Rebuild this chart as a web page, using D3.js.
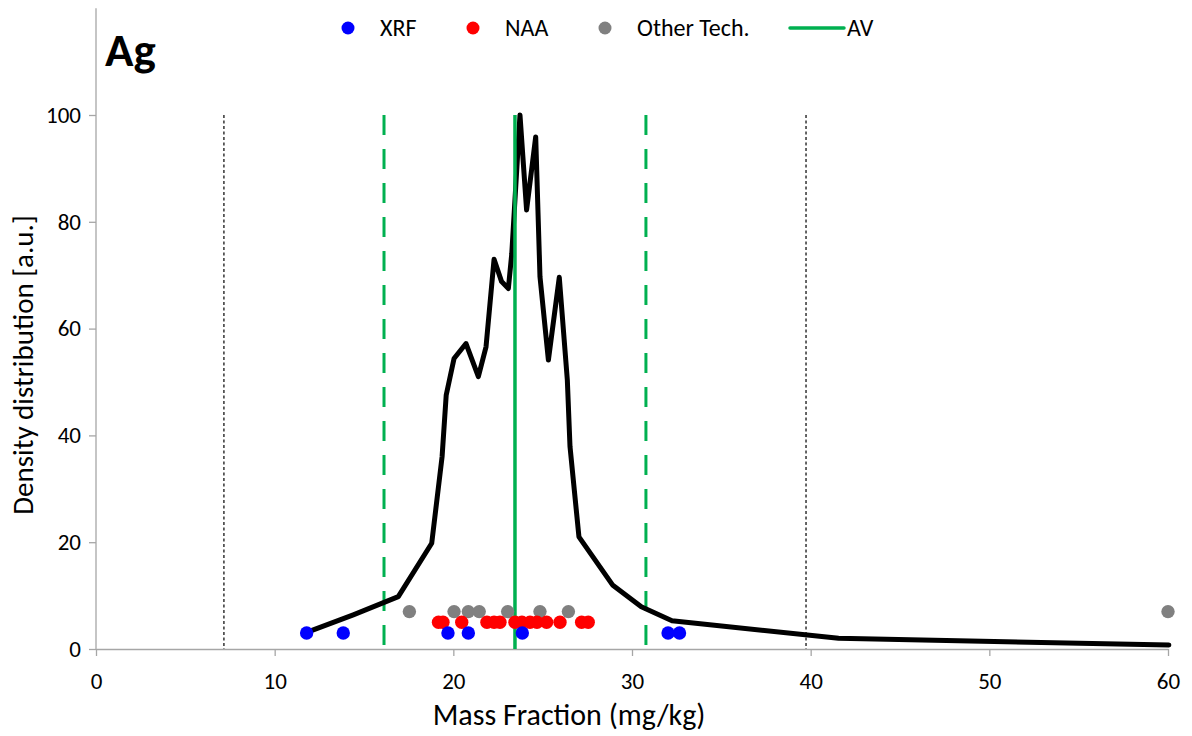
<!DOCTYPE html>
<html>
<head>
<meta charset="utf-8">
<script src="https://cdn.jsdelivr.net/npm/d3@7"></script>
<style>
  body { margin: 0; background: #fff; }
  svg text { font-family: Carlito, Calibri, Lato, sans-serif; fill: #000; }
</style>
</head>
<body>
<svg id="chart" width="1192" height="736"></svg>
<script>
// density curve (x = mass fraction, y = density)
var curveX = [11.79, 14.4, 16.92, 18.79, 19.37, 19.6, 20.04, 20.71, 21.4, 21.83, 22.28, 22.7, 23.08, 23.27, 23.73, 24.1, 24.61, 24.85, 25.32, 25.93, 26.38, 26.53, 27.03, 28.91, 30.52, 32.24, 41.56, 60.05];
var curveY = [3.1, 6.4, 9.8, 19.8, 36.0, 47.5, 54.4, 57.2, 51.0, 56.6, 73.0, 68.8, 67.5, 74.0, 100.0, 82.2, 95.9, 69.7, 54.1, 69.6, 50.4, 37.9, 21.0, 12.0, 7.9, 5.3, 2.0, 0.75];

// lab results by technique (y is a fixed row level)
var xrfX = [11.79, 13.84, 19.7, 20.84, 23.86, 32.02, 32.66];
var xrfLevel = 3;
var naaX = [19.17, 19.42, 20.47, 21.88, 22.28, 22.61, 23.45, 23.84, 24.29, 24.68, 25.22, 25.97, 27.18, 27.55];
var naaLevel = 5;
var otherX = [17.54, 20.04, 20.84, 21.45, 23.04, 24.85, 26.44, 60];
var otherLevel = 7;

// reference values
var assignedValue = 23.45;
var greenLimits = [16.12, 30.78];
var blackLimits = [7.16, 39.74];

var xTicks = [0, 10, 20, 30, 40, 50, 60];
var yTicks = [0, 20, 40, 60, 80, 100];

var svg = d3.select("#chart");
var x = d3.scaleLinear().domain([0, 60]).range([96, 1168]);
var y = d3.scaleLinear().domain([0, 120]).range([649, 8.2]);
var axisColor = "#a6a6a6";

// axes
var xAxis = svg.append("g")
  .attr("transform", "translate(0," + y(0) + ")")
  .call(d3.axisBottom(x).tickValues(xTicks).tickSize(7).tickSizeOuter(0).tickPadding(17));
var yAxis = svg.append("g")
  .attr("transform", "translate(" + x(0) + ",0)")
  .call(d3.axisLeft(y).tickValues(yTicks).tickSize(7).tickSizeOuter(0).tickPadding(8));
[xAxis, yAxis].forEach(function (a) {
  a.select(".domain").attr("stroke", axisColor).attr("stroke-width", 1.3);
  a.selectAll(".tick line").attr("stroke", axisColor).attr("stroke-width", 1.3);
  a.selectAll(".tick text").style("font-size", "23px").attr("fill", "#000");
});
yAxis.select(".domain").attr("d", "M0," + y(120) + "V" + y(0));

// vertical reference lines
svg.selectAll(".black-limit")
  .data(blackLimits)
  .enter()
  .append("line")
  .attr("x1", function (d) { return x(d); })
  .attr("x2", function (d) { return x(d); })
  .attr("y1", y(100))
  .attr("y2", y(0))
  .attr("stroke", "#000")
  .attr("stroke-width", 1.2)
  .attr("stroke-dasharray", "3,2.5");

svg.selectAll(".green-limit")
  .data(greenLimits)
  .enter()
  .append("line")
  .attr("x1", function (d) { return x(d); })
  .attr("x2", function (d) { return x(d); })
  .attr("y1", y(100))
  .attr("y2", y(0))
  .attr("stroke", "#00b050")
  .attr("stroke-width", 3)
  .attr("stroke-dasharray", "20,14");

// density curve
var line = d3.line()
  .x(function (d) { return x(d[0]); })
  .y(function (d) { return y(d[1]); });
svg.append("path")
  .datum(d3.zip(curveX, curveY))
  .attr("d", line)
  .attr("fill", "none")
  .attr("stroke", "#000")
  .attr("stroke-width", 5)
  .attr("stroke-linejoin", "round")
  .attr("stroke-linecap", "round");

// assigned value
svg.append("line")
  .attr("x1", x(assignedValue))
  .attr("x2", x(assignedValue))
  .attr("y1", y(100))
  .attr("y2", y(0))
  .attr("stroke", "#00b050")
  .attr("stroke-width", 3.5);

// dots
var groups = [
  { xs: otherX, level: otherLevel, color: "#808080" },
  { xs: naaX, level: naaLevel, color: "#ff0000" },
  { xs: xrfX, level: xrfLevel, color: "#0000ff" }
];
groups.forEach(function (g) {
  svg.append("g")
    .selectAll("circle")
    .data(g.xs)
    .enter()
    .append("circle")
    .attr("cx", function (d) { return x(d); })
    .attr("cy", y(g.level))
    .attr("r", 6.7)
    .attr("fill", g.color);
});

// title
svg.append("text")
  .attr("x", 105)
  .attr("y", 66)
  .style("font-size", "47px")
  .style("font-weight", "bold")
  .text("Ag");

// legend
var legend = [
  { name: "XRF", color: "#0000ff", cx: 348, tx: 380 },
  { name: "NAA", color: "#ff0000", cx: 473, tx: 505 },
  { name: "Other Tech.", color: "#808080", cx: 605, tx: 637 }
];
legend.forEach(function (l) {
  svg.append("circle").attr("cx", l.cx).attr("cy", 28).attr("r", 6.5).attr("fill", l.color);
  svg.append("text").attr("x", l.tx).attr("y", 36).style("font-size", "24px").text(l.name);
});
svg.append("line")
  .attr("x1", 790).attr("x2", 844).attr("y1", 28).attr("y2", 28)
  .attr("stroke", "#00b050").attr("stroke-width", 3.5).attr("stroke-linecap", "round");
svg.append("text").attr("x", 847).attr("y", 36).style("font-size", "24px").text("AV");

// axis titles
svg.append("text")
  .attr("x", 569)
  .attr("y", 725)
  .attr("text-anchor", "middle")
  .style("font-size", "30px")
  .text("Mass Fraction (mg/kg)");
svg.append("text")
  .attr("transform", "translate(33,365) rotate(-90)")
  .attr("text-anchor", "middle")
  .style("font-size", "29px")
  .text("Density distribution [a.u.]");
</script>
</body>
</html>
